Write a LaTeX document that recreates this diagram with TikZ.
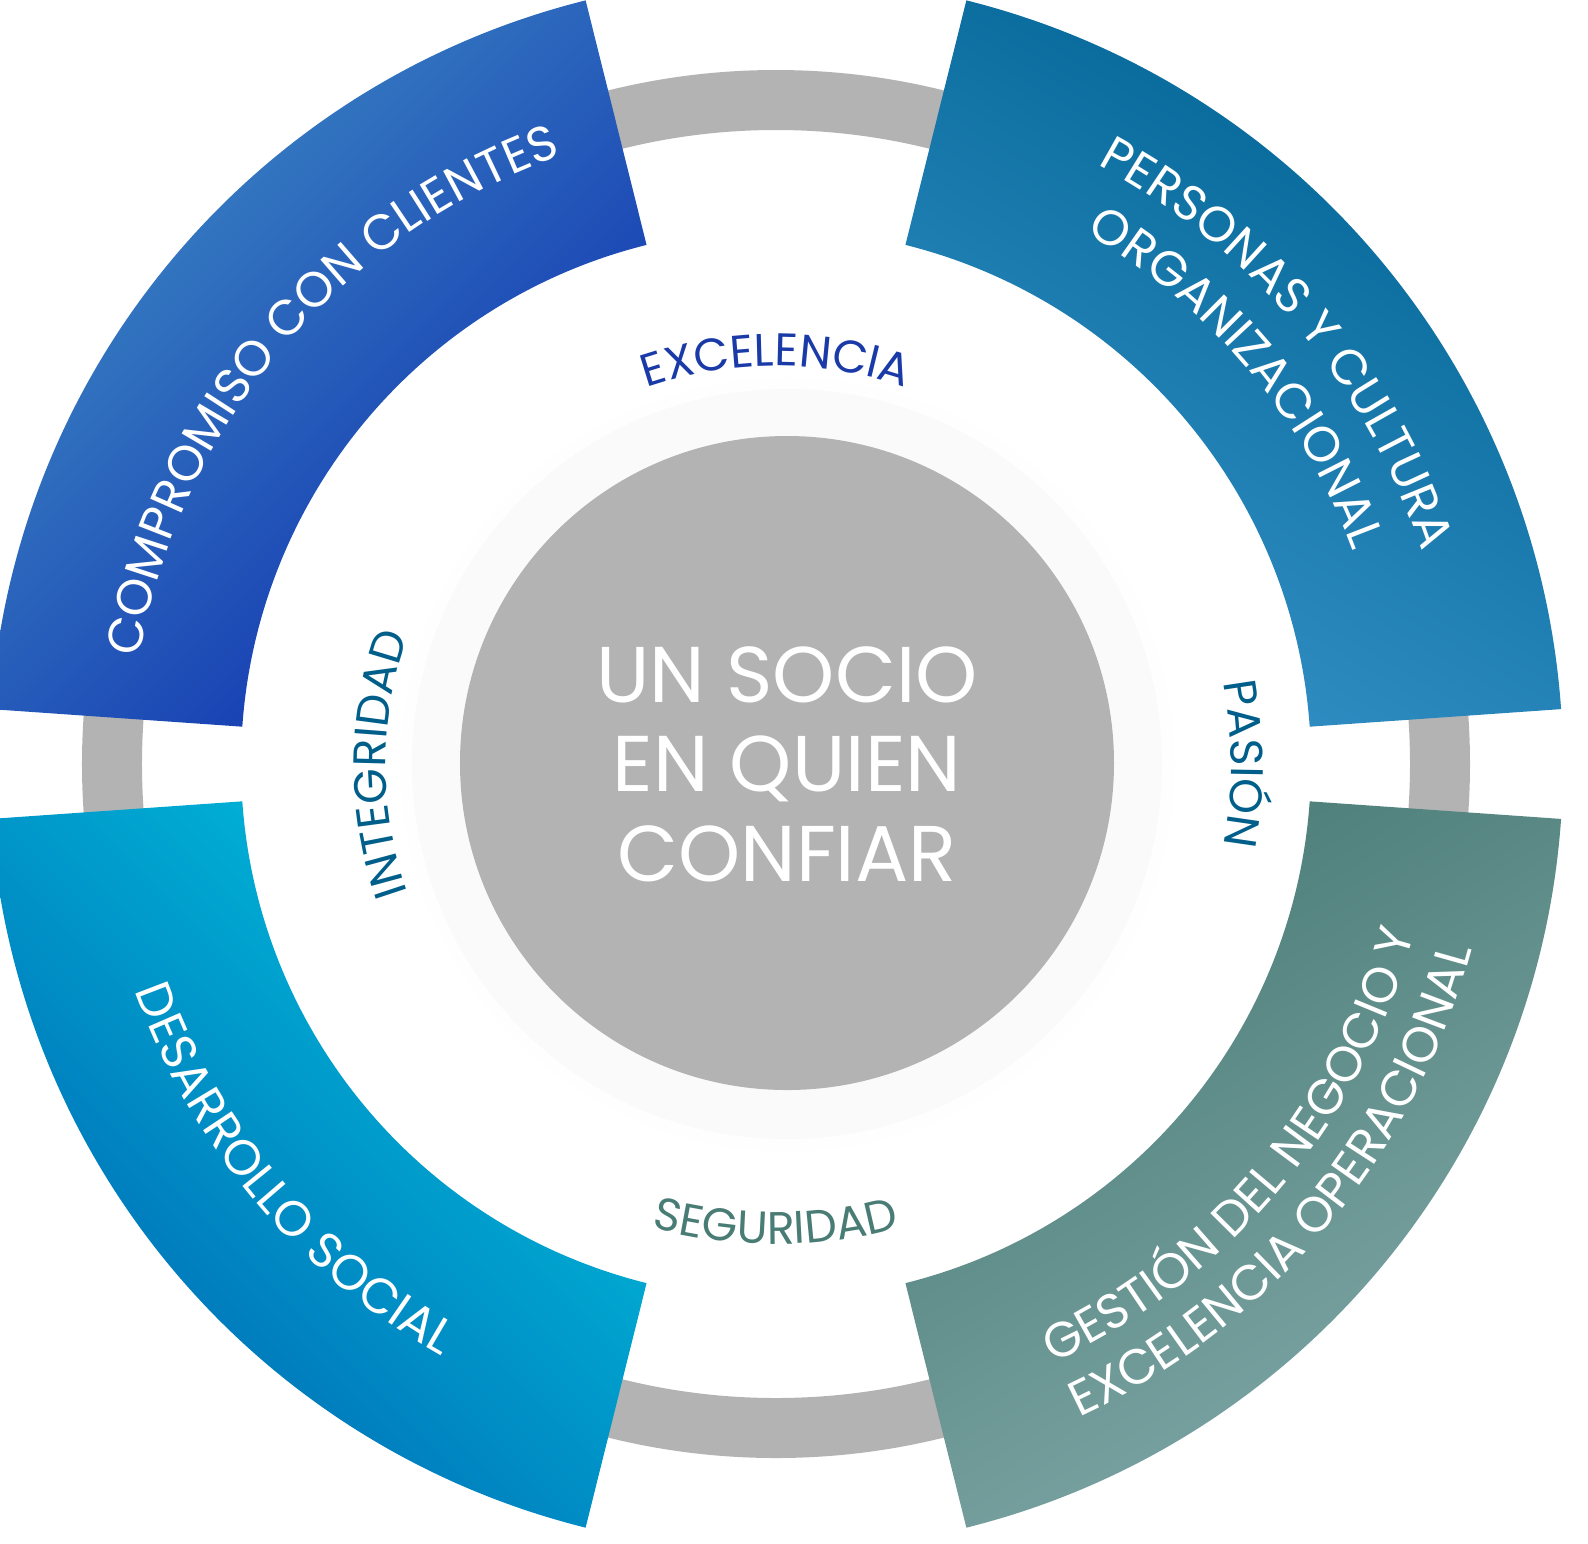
\documentclass[tikz,border=0pt]{standalone}
\usepackage{fontspec}
\setmainfont{Poppins}
\usetikzlibrary{decorations.text,shadings}
\definecolor{RingGrey}{HTML}{B3B3B3}
\definecolor{ClientA}{HTML}{3D8AC4}
\definecolor{ClientB}{HTML}{1030B0}
\definecolor{PeopleA}{HTML}{006494}
\definecolor{PeopleB}{HTML}{3490C6}
\definecolor{SocialA}{HTML}{00C0DC}
\definecolor{SocialB}{HTML}{0068B4}
\definecolor{BusinessA}{HTML}{4A7C76}
\definecolor{BusinessB}{HTML}{80A8A8}
\definecolor{WordBlue}{HTML}{1A3AA8}
\definecolor{WordTeal}{HTML}{005F8A}
\definecolor{WordGreen}{HTML}{4A7C76}
\tikzset{
  segtext/.style={decorate,decoration={text along path,text align=center,
    text color=white,text={|\fontsize{14}{16}\selectfont|#1}}},
  wordtext/.style 2 args={decorate,decoration={text along path,text align=center,
    text color=#1,text={|\fontsize{13}{15}\selectfont|#2}}}
}
\begin{document}
\begin{tikzpicture}
  \useasboundingbox (-7.76,-7.79) rectangle (8.12,7.64);
  % grey ring
  \draw[RingGrey,line width=0.6cm] (0,0) circle[radius=6.64];
  % shadow disc and centre disc
  \shade[inner color=gray!12,outer color=white] (0.11,0) circle[radius=4.0];
  \fill[gray!4] (0.11,0) circle[radius=3.75];
  \fill[RingGrey] (0.11,0.01) circle[radius=3.27];
  \node[white,align=center,font=\fontsize{22.5}{25.5}\selectfont] (core) at (0.11,0)
    {UN SOCIO\\EN QUIEN\\CONFIAR};
  % four segments
  \shade[left color=ClientA,right color=ClientB,shading angle=45]
    (104:7.87) arc[start angle=104,end angle=176,radius=7.87]
    -- (176:5.35) arc[start angle=176,end angle=104,radius=5.35] -- cycle;
  \shade[left color=PeopleA,right color=PeopleB,shading angle=-30]
    (76:7.87) arc[start angle=76,end angle=4,radius=7.87]
    -- (4:5.35) arc[start angle=4,end angle=76,radius=5.35] -- cycle;
  \shade[left color=SocialA,right color=SocialB,shading angle=-45]
    (184:7.87) arc[start angle=184,end angle=256,radius=7.87]
    -- (256:5.35) arc[start angle=256,end angle=184,radius=5.35] -- cycle;
  \shade[left color=BusinessA,right color=BusinessB,shading angle=30]
    (284:7.87) arc[start angle=284,end angle=356,radius=7.87]
    -- (356:5.35) arc[start angle=356,end angle=284,radius=5.35] -- cycle;
  % segment labels
  \path[segtext={COMPROMISO CON CLIENTES}]
    (176:6.45) arc[start angle=176,end angle=104,radius=6.45];
  \path[segtext={PERSONAS Y CULTURA}]
    (76:6.8) arc[start angle=76,end angle=4,radius=6.8];
  \path[segtext={ORGANIZACIONAL}]
    (76:6.15) arc[start angle=76,end angle=4,radius=6.15];
  \path[segtext={DESARROLLO SOCIAL}]
    (184:6.8) arc[start angle=184,end angle=256,radius=6.8];
  \path[segtext={GESTI{Ó}N DEL NEGOCIO Y}]
    (284:6.6) arc[start angle=284,end angle=356,radius=6.6];
  \path[segtext={EXCELENCIA OPERACIONAL}]
    (284:7.2) arc[start angle=284,end angle=356,radius=7.2];
  % value words
  \path[wordtext={WordBlue}{EXCELENCIA}]
    (110:3.98) arc[start angle=110,end angle=70,radius=3.98];
  \path[wordtext={WordTeal}{PASI{Ó}N}]
    (30:4.55) arc[start angle=30,end angle=-30,radius=4.55];
  \path[wordtext={WordTeal}{INTEGRIDAD}]
    (210:3.9) arc[start angle=210,end angle=150,radius=3.9];
  \path[wordtext={WordGreen}{SEGURIDAD}]
    (250:4.8) arc[start angle=250,end angle=290,radius=4.8];
\end{tikzpicture}
\end{document}
